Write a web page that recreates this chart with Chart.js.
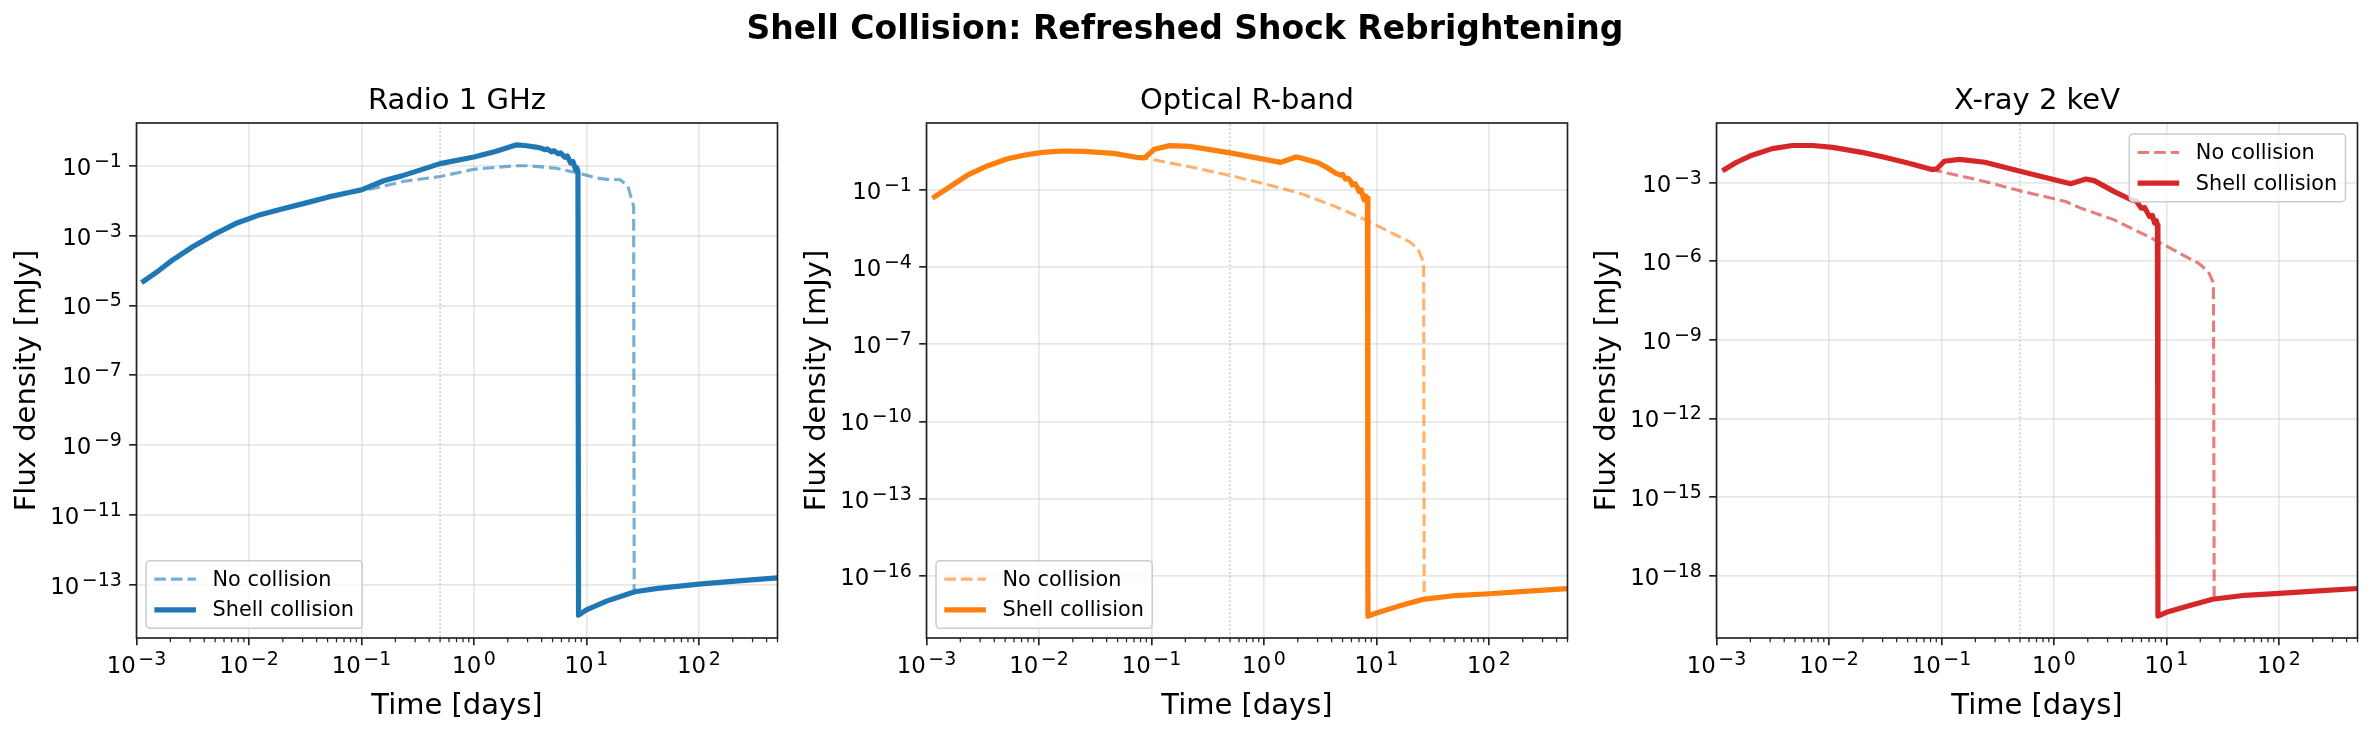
<!DOCTYPE html>
<html><head><meta charset="utf-8">
<script src="https://cdn.jsdelivr.net/npm/chart.js@4.4.1/dist/chart.umd.min.js"></script>
<style>
html,body{margin:0;padding:0;background:#fff;}
body{width:2370px;height:732px;position:relative;overflow:hidden;font-family:"DejaVu Sans";}
#sup{position:absolute;left:0;width:2370px;top:11px;text-align:center;font:bold 33px/33px "DejaVu Sans";color:#000;z-index:2;}
canvas{position:absolute;top:0;}
</style></head><body>
<div id="sup">Shell Collision: Refreshed Shock Rebrightening</div>
<canvas id="c0" width="790" height="732" style="left:0px"></canvas>
<canvas id="c1" width="790" height="732" style="left:790px"></canvas>
<canvas id="c2" width="790" height="732" style="left:1580px"></canvas>
<script>
// ---------- data (time in days, flux density in mJy) ----------
const panelTitles = ['Radio 1 GHz', 'Optical R-band', 'X-ray 2 keV'];
const seriesLabels = ['No collision', 'Shell collision'];
const timeTicks = [1e-3, 1e-2, 1e-1, 1e0, 1e1, 1e2];
const timeMin = 1e-3, timeMax = 500;
const collisionTime = 0.5;

const radioTimeNo = [1.11e-3,1.58e-3,2.07e-3,3.16e-3,5.01e-3,7.94e-3,1.26e-2,2.0e-2,3.16e-2,5.01e-2,7.94e-2,0.1,0.115,0.243,0.501,1.0,2.34,3.0,5.37,9.12,12.3,15.3,20.0,23.4,26.3,26.6,43.2,100,224,500];
const radioFluxNo = [4.47e-5,1.0e-4,1.95e-4,4.79e-4,1.12e-3,2.34e-3,3.98e-3,5.89e-3,8.51e-3,1.26e-2,1.74e-2,2.04e-2,2.06e-2,3.63e-2,4.9e-2,7.94e-2,0.1,0.1,8.51e-2,5.82e-2,4.47e-2,4.07e-2,3.98e-2,2.57e-2,6.92e-3,6.31e-14,7.94e-14,1.05e-13,1.29e-13,1.58e-13];
const radioTimeShell = [1.11e-3,1.58e-3,2.07e-3,3.16e-3,5.01e-3,7.94e-3,1.26e-2,2.0e-2,3.16e-2,5.01e-2,7.94e-2,0.1,0.158,0.229,0.501,1.0,1.55,2.40,2.82,3.56,3.98,4.27,4.47,4.90,5.13,5.62,5.89,6.46,6.76,7.24,7.59,8.04,8.22,8.41,8.51,10,15.3,26.9,43.2,100,224,500];
const radioFluxShell = [4.47e-5,1.0e-4,1.95e-4,4.79e-4,1.12e-3,2.34e-3,3.98e-3,5.89e-3,8.51e-3,1.26e-2,1.74e-2,2.04e-2,3.72e-2,5.13e-2,0.115,0.178,0.257,0.398,0.38,0.343,0.316,0.288,0.302,0.251,0.269,0.219,0.234,0.174,0.191,0.120,0.132,7.59e-2,8.71e-2,6.92e-2,1.35e-14,1.91e-14,3.47e-14,6.31e-14,7.94e-14,1.05e-13,1.29e-13,1.58e-13];
const radioFluxTicks = [1e-13,1e-11,1e-9,1e-7,1e-5,1e-3,1e-1];
const radioFluxMin = 3.2e-15, radioFluxMax = 1.675;

const optTimeNo = [1.13e-3,1.68e-3,2.29e-3,3.47e-3,5.25e-3,7.94e-3,1.08e-2,1.64e-2,2.48e-2,4.62e-2,7.76e-2,8.61e-2,0.243,0.501,1.27,2.17,4.33,8.02,19.6,23.3,25.7,26.3,26.6,50.1,100,224,500];
const optFluxNo = [4.79e-2,0.148,0.363,0.851,1.62,2.37,2.88,3.24,3.16,2.63,1.78,1.74,0.724,0.363,0.133,6.98e-2,2.24e-2,6.76e-3,9.77e-4,5.37e-4,1.91e-4,1.0e-4,1.26e-17,1.7e-17,2.0e-17,2.51e-17,3.16e-17];
const optTimeShell = [1.13e-3,1.68e-3,2.29e-3,3.47e-3,5.25e-3,7.94e-3,1.08e-2,1.64e-2,2.48e-2,4.62e-2,7.76e-2,8.61e-2,9.55e-2,0.106,0.145,0.219,0.501,1.41,1.66,1.93,2.17,3.07,3.63,4.33,4.79,5.01,5.31,5.62,5.89,6.10,6.46,6.76,7.0,7.33,7.76,8.04,8.32,8.41,10,15.3,25.7,50.1,100,224,500];
const optFluxShell = [4.79e-2,0.148,0.363,0.851,1.62,2.37,2.88,3.24,3.16,2.63,1.78,1.74,2.51,3.80,5.25,4.90,2.75,1.17,1.51,1.91,1.71,1.10,0.741,0.447,0.372,0.398,0.263,0.282,0.219,0.155,0.174,0.126,8.51e-2,0.1,4.07e-2,5.75e-2,4.79e-2,2.69e-18,3.55e-18,6.31e-18,1.2e-17,1.7e-17,2.0e-17,2.51e-17,3.16e-17];
const optFluxTicks = [1e-16,1e-13,1e-10,1e-7,1e-4,1e-1];
const optFluxMin = 3.8e-19, optFluxMax = 39.8;

const xrayTimeNo = [1.13e-3,1.51e-3,2.07e-3,3.13e-3,4.73e-3,7.16e-3,1.08e-2,2.02e-2,3.05e-2,5.13e-2,8.22e-2,0.243,0.501,1.27,1.73,3.44,6.86,8.43,19.2,23.6,26.2,26.6,50.1,100,224,500];
const xrayFluxNo = [2.88e-3,6.03e-3,1.12e-2,2.0e-2,2.63e-2,2.63e-2,2.24e-2,1.41e-2,9.55e-3,5.5e-3,3.16e-3,1.12e-3,4.9e-4,1.91e-4,1.07e-4,3.8e-5,8.91e-6,5.62e-6,8.51e-7,4.07e-7,1.48e-7,1.35e-19,1.78e-19,2.09e-19,2.63e-19,3.24e-19];
const xrayTimeShell = [1.13e-3,1.51e-3,2.07e-3,3.13e-3,4.73e-3,7.16e-3,1.08e-2,2.02e-2,3.05e-2,5.13e-2,8.22e-2,9.12e-2,0.106,0.145,0.243,0.501,1.41,1.93,2.28,3.44,4.86,5.4,5.97,6.4,7.08,7.5,7.85,8.13,8.32,8.41,10,15.3,25.7,50.1,100,224,500];
const xrayFluxShell = [2.88e-3,6.03e-3,1.12e-2,2.0e-2,2.63e-2,2.63e-2,2.24e-2,1.41e-2,9.55e-3,5.5e-3,3.16e-3,3.39e-3,6.61e-3,7.76e-3,6.03e-3,2.75e-3,9.12e-4,1.38e-3,1.20e-3,4.57e-4,2.24e-4,2.0e-4,1.07e-4,1.12e-4,5.13e-5,5.62e-5,2.88e-5,3.55e-5,2.4e-5,2.88e-20,3.98e-20,6.76e-20,1.26e-19,1.78e-19,2.09e-19,2.63e-19,3.24e-19];
const xrayFluxTicks = [1e-18,1e-15,1e-12,1e-9,1e-6,1e-3];
const xrayFluxMin = 4.17e-21, xrayFluxMax = 0.19;

const solidColors = ['#1f77b4', '#ff7f0e', '#d62728'];
const fadedColors = ['rgba(31,119,180,0.6)', 'rgba(255,127,14,0.6)', 'rgba(214,39,40,0.6)'];
const legendLocs = ['lower left', 'lower left', 'upper right'];

// ---------- rendering ----------
const FONT = '"DejaVu Sans"';
Chart.defaults.font.family = FONT;
Chart.defaults.color = '#000';
const frameColor = '#222';
const TICK_FS = 22.9, SUP_FS = 19.0, SUP_RISE = 8.0, SUP_GAP = 2.5;

function expText(v) { return String(Math.round(Math.log10(v))).replace('-', '\u2212'); }
function powLabel(v) { return '10^' + expText(v); }

// draws "10" with a raised exponent; y is the baseline of "10"
function drawPow(ctx, v, x, y, align) {
  const e = expText(v);
  ctx.font = TICK_FS + 'px ' + FONT;
  const w1 = ctx.measureText('10').width;
  ctx.font = SUP_FS + 'px ' + FONT;
  const w2 = ctx.measureText(e).width;
  const total = w1 + SUP_GAP + w2;
  const start = align === 'right' ? x - total : x - total / 2;
  ctx.textAlign = 'left'; ctx.textBaseline = 'alphabetic'; ctx.fillStyle = '#000';
  ctx.font = TICK_FS + 'px ' + FONT;
  ctx.fillText('10', start, y);
  ctx.font = SUP_FS + 'px ' + FONT;
  ctx.fillText(e, start + w1 + SUP_GAP, y - SUP_RISE);
}

function pts(ts, fs) { return ts.map((t, i) => ({x: t, y: fs[i]})); }

const decorPlugin = {
  id: 'decor',
  afterDatasetsDraw(chart, args, opts) {
    const {ctx, chartArea: a} = chart;
    const x = chart.scales.x, y = chart.scales.y;
    ctx.save();
    // minor x ticks
    ctx.strokeStyle = frameColor; ctx.lineWidth = 1.25; ctx.setLineDash([]);
    ctx.beginPath();
    for (let k = -3; k <= 2; k++) {
      for (let m = 2; m <= 9; m++) {
        const v = m * Math.pow(10, k);
        if (v > x.max) continue;
        const px = x.getPixelForValue(v);
        ctx.moveTo(px, a.bottom); ctx.lineTo(px, a.bottom + 4.2);
      }
    }
    ctx.stroke();
    // spines
    ctx.lineWidth = 1.67;
    ctx.strokeRect(a.left, a.top, a.right - a.left, a.bottom - a.top);
    // tick labels (mathtext-like powers of ten)
    x.ticks.forEach(t => drawPow(ctx, t.value, x.getPixelForValue(t.value), a.bottom + 35.3, 'center'));
    y.ticks.forEach(t => drawPow(ctx, t.value, a.left - 14.6, y.getPixelForValue(t.value) + 9.0, 'right'));
    // legend
    const items = chart.data.datasets.filter(d => d.legendEntry);
    const fs = 20.8;
    ctx.font = fs + 'px ' + FONT;
    const pad = 0.4 * fs, hl = 2 * fs, htp = 0.8 * fs, ls = 0.5 * fs, rowH = 20.3;
    const tw = Math.max(...items.map(d => ctx.measureText(d.label).width));
    const w = pad + hl + htp + tw + pad;
    const h = 2 * pad + items.length * rowH + (items.length - 1) * ls;
    let left, top;
    if (opts.loc === 'upper right') { left = a.right - 12 - w; top = a.top + 11; }
    else { left = a.left + 9.5; top = a.bottom - 9.7 - h; }
    ctx.beginPath();
    ctx.roundRect(left, top, w, h, 4);
    ctx.fillStyle = 'rgba(255,255,255,0.8)';
    ctx.fill();
    ctx.strokeStyle = '#cccccc'; ctx.lineWidth = 1.5;
    ctx.stroke();
    items.forEach((d, i) => {
      const cy = top + pad + rowH / 2 + i * (rowH + ls);
      ctx.beginPath();
      ctx.strokeStyle = d.borderColor; ctx.lineWidth = d.borderWidth;
      ctx.setLineDash(d.borderDash || []); ctx.lineCap = 'butt';
      ctx.moveTo(left + pad, cy); ctx.lineTo(left + pad + hl, cy);
      ctx.stroke();
      ctx.setLineDash([]);
      ctx.font = fs + 'px ' + FONT;
      ctx.fillStyle = '#000'; ctx.textBaseline = 'middle'; ctx.textAlign = 'left';
      ctx.fillText(d.label, left + pad + hl + htp, cy + 1);
    });
    ctx.restore();
  }
};

const panels = [
  {no: pts(radioTimeNo, radioFluxNo), shell: pts(radioTimeShell, radioFluxShell), ticks: radioFluxTicks, min: radioFluxMin, max: radioFluxMax},
  {no: pts(optTimeNo, optFluxNo), shell: pts(optTimeShell, optFluxShell), ticks: optFluxTicks, min: optFluxMin, max: optFluxMax},
  {no: pts(xrayTimeNo, xrayFluxNo), shell: pts(xrayTimeShell, xrayFluxShell), ticks: xrayFluxTicks, min: xrayFluxMin, max: xrayFluxMax}
];

panels.forEach((p, i) => {
  new Chart(document.getElementById('c' + i), {
    type: 'line',
    data: {
      datasets: [
        {label: seriesLabels[0], data: p.no, borderColor: fadedColors[i], borderWidth: 3.1, borderDash: [11.6, 5],
         pointRadius: 0, tension: 0, fill: false, order: 2, legendEntry: true},
        {label: seriesLabels[1], data: p.shell, borderColor: solidColors[i], borderWidth: 5.2, borderJoinStyle: 'round',
         pointRadius: 0, tension: 0, fill: false, order: 1, legendEntry: true},
        {label: 'collision', data: [{x: collisionTime, y: p.min}, {x: collisionTime, y: p.max}], borderColor: 'rgba(128,128,128,0.5)',
         borderWidth: 1.5, borderDash: [1.5, 2.5], pointRadius: 0, fill: false, order: 3}
      ]
    },
    options: {
      responsive: false, animation: false, devicePixelRatio: 1, events: [],
      layout: {padding: {left: 9.6, right: 12.5, top: 60, bottom: 0}},
      plugins: {
        legend: {display: false}, tooltip: {enabled: false},
        title: {display: true, text: panelTitles[i], fullSize: false, color: '#000',
                font: {size: 29, weight: 'normal', family: FONT}, padding: {top: 23.6, bottom: 4.6}},
        decor: {loc: legendLocs[i]}
      },
      scales: {
        x: {
          type: 'logarithmic', min: timeMin, max: timeMax,
          afterBuildTicks: s => { s.ticks = timeTicks.map(v => ({value: v})); },
          afterFit: s => { s.height = 94; },
          ticks: {display: false, autoSkip: false, maxRotation: 0, callback: v => powLabel(v)},
          grid: {color: 'rgba(176,176,176,0.3)', lineWidth: 1.67, tickColor: frameColor, tickWidth: 1.67, tickLength: 7.3},
          border: {display: false},
          title: {display: true, text: 'Time [days]', font: {size: 29}, color: '#000', padding: {top: 0, bottom: 8.6}}
        },
        y: {
          type: 'logarithmic', min: p.min, max: p.max,
          afterBuildTicks: s => { s.ticks = p.ticks.map(v => ({value: v})); },
          afterFit: s => { s.width = 126.9; },
          ticks: {display: false, autoSkip: false, callback: v => powLabel(v)},
          grid: {color: 'rgba(176,176,176,0.3)', lineWidth: 1.67, tickColor: frameColor, tickWidth: 1.67, tickLength: 7.3},
          border: {display: false},
          title: {display: true, text: 'Flux density [mJy]', font: {size: 29}, color: '#000', padding: {top: 0, bottom: 0}}
        }
      }
    },
    plugins: [decorPlugin]
  });
});
</script>
</body></html>
